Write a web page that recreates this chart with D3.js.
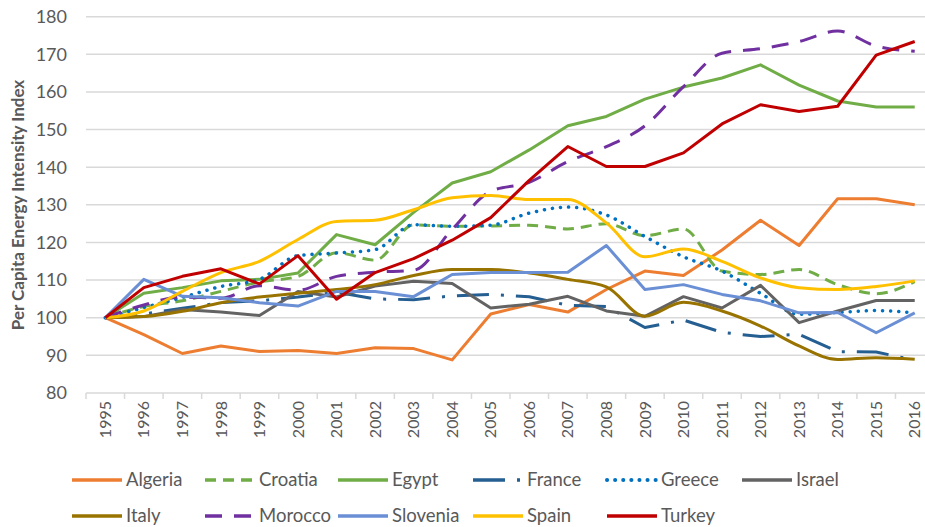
<!doctype html>
<html lang="en">
<head>
    <meta charset="utf-8">
    <title>Per Capita Energy Intensity Index</title>
    <script src="https://d3js.org/d3.v7.min.js"></script>
    <style>
        body {
            margin: 0;
            padding: 0;
            background: #ffffff;
        }
        svg {
            display: block;
            font-family: 'Lato', 'Open Sans', sans-serif;
        }
        .grid line {
            stroke: #d9d9d9;
            stroke-width: 1.5;
        }
        .tick-label {
            fill: #595959;
        }
    </style>
</head>
<body>
    <div class="home"></div>
    <script>
        // chart data
        const years = ["1995", "1996", "1997", "1998", "1999", "2000", "2001", "2002", "2003", "2004", "2005",
                       "2006", "2007", "2008", "2009", "2010", "2011", "2012", "2013", "2014", "2015", "2016"];
        const yTicks = [80, 90, 100, 110, 120, 130, 140, 150, 160, 170, 180];

        const algeria  = [100, 95.5, 90.5, 92.5, 91, 91.3, 90.5, 92, 91.8, 88.8, 101, 103.5, 101.5, 107.5, 112.4, 111.2, 118, 125.9, 119.2, 131.6, 131.6, 130];
        const croatia  = [100, 103, 104.5, 107, 109.5, 111, 117.3, 115.3, 124.7, 124.3, 124.4, 124.6, 123.6, 125, 121.8, 123.6, 112.4, 111.5, 112.8, 108.8, 106.4, 109.6];
        const egypt    = [100, 106.5, 108, 109.8, 110.2, 111.9, 122.1, 119.4, 128, 135.8, 138.8, 144.6, 151, 153.5, 158.1, 161.3, 163.7, 167.2, 161.8, 157.6, 156, 156];
        const france   = [100, 101, 102.5, 104, 104.5, 105.5, 106.8, 105, 104.8, 105.8, 106.2, 105.6, 103.3, 103, 97.4, 99.4, 96.1, 95, 95.6, 91, 90.9, 88.7];
        const greece   = [100, 102.7, 105.4, 108.3, 110.2, 116.5, 117.2, 118.1, 124.7, 124.3, 124.6, 127.8, 129.4, 127.3, 121.6, 116.2, 112.4, 106.5, 100.9, 101.4, 101.9, 101.3];
        const israel   = [100, 100.3, 102.2, 101.5, 100.6, 107, 105.5, 108.4, 109.7, 109.1, 102.6, 103.6, 105.7, 101.8, 100.4, 105.6, 102.6, 108.6, 98.7, 101.8, 104.6, 104.6];
        const italy    = [100, 100.3, 101.7, 104, 105.5, 106.5, 107.5, 108.8, 111.2, 112.8, 112.8, 111.9, 110.2, 108.2, 100.4, 104.1, 101.8, 97.8, 92.5, 88.9, 89.4, 89];
        const morocco  = [100, 103.4, 105.5, 105.2, 108.5, 107.3, 111, 112.1, 112.6, 123.5, 133.6, 136, 141.5, 145.5, 151, 161.4, 170.3, 171.5, 173.4, 176.2, 172.2, 170.8];
        const slovenia = [100, 110.2, 105.7, 105.3, 104, 103.1, 107, 107, 105.6, 111.5, 112, 112, 112.1, 119.2, 107.5, 108.8, 106.2, 104.5, 101.3, 101.4, 96, 101.3];
        const spain    = [100, 101.8, 107, 112, 115, 120.8, 125.6, 125.9, 128.7, 131.9, 132.5, 131.4, 131.4, 125.2, 116.2, 118.3, 115, 110.6, 108, 107.5, 108.3, 109.8];
        const turkey   = [100, 108, 111, 113, 109, 116.5, 104.9, 112, 115.7, 120.6, 126.6, 136.5, 145.5, 140.2, 140.2, 143.8, 151.5, 156.6, 154.8, 156.2, 169.8, 173.4];

        const seriesNames  = ["Algeria", "Croatia", "Egypt", "France", "Greece", "Israel",
                              "Italy", "Morocco", "Slovenia", "Spain", "Turkey"];
        const seriesValues = [algeria, croatia, egypt, france, greece, israel,
                              italy, morocco, slovenia, spain, turkey];

        // line styles per series
        const styles = {
            Algeria:  {color: "#ed7d31", dash: null,          width: 3,   smooth: false},
            Croatia:  {color: "#70ad47", dash: "11,7",        width: 3,   smooth: true},
            Egypt:    {color: "#70ad47", dash: null,          width: 3,   smooth: false},
            France:   {color: "#255e91", dash: "32,12,3,12",  width: 3,   smooth: false},
            Greece:   {color: "#0070c0", dash: "0.1,8",       width: 3.5, smooth: true, cap: "round"},
            Israel:   {color: "#636363", dash: null,          width: 3,   smooth: false},
            Italy:    {color: "#997300", dash: null,          width: 3,   smooth: true},
            Morocco:  {color: "#7030a0", dash: "17,12",       width: 3,   smooth: true},
            Slovenia: {color: "#6a8fd4", dash: null,          width: 3,   smooth: false},
            Spain:    {color: "#ffc000", dash: null,          width: 3,   smooth: true},
            Turkey:   {color: "#c00000", dash: null,          width: 3,   smooth: false}
        };

        // window size
        const width = 925;
        const height = 527;

        const svg = d3.select(".home").append("svg")
            .attr("width", width)
            .attr("height", height);

        // scales (right end of the plot runs past the frame like the original)
        const x = d3.scaleBand().domain(years).range([86, 934]);
        const y = d3.scaleLinear().domain([80, 180]).range([393, 16.7]);
        const cx = d => x(d) + x.bandwidth() / 2;

        // gridlines
        svg.append("g").attr("class", "grid")
            .selectAll("line")
            .data(yTicks)
            .enter()
            .append("line")
            .attr("x1", 86)
            .attr("x2", width)
            .attr("y1", d => y(d))
            .attr("y2", d => y(d));

        // y axis labels
        svg.append("g")
            .selectAll("text")
            .data(yTicks)
            .enter()
            .append("text")
            .attr("class", "tick-label")
            .attr("x", 67)
            .attr("y", d => y(d))
            .attr("dy", "0.35em")
            .attr("text-anchor", "end")
            .style("font-size", "18px")
            .text(d => d);

        // x axis tick marks between categories
        svg.append("g")
            .selectAll("line")
            .data(years.concat(["end"]))
            .enter()
            .append("line")
            .attr("x1", (d, i) => x.range()[0] + i * x.step())
            .attr("x2", (d, i) => x.range()[0] + i * x.step())
            .attr("y1", y(80))
            .attr("y2", y(80) + 6)
            .style("stroke", "#d9d9d9")
            .style("stroke-width", 1.5);

        // x axis labels, rotated
        svg.append("g")
            .selectAll("text")
            .data(years)
            .enter()
            .append("text")
            .attr("class", "tick-label")
            .attr("transform", d => `translate(${cx(d)},${y(80) + 8}) rotate(-90)`)
            .attr("dy", "0.35em")
            .attr("text-anchor", "end")
            .style("font-size", "16px")
            .text(d => d);

        // y axis title
        svg.append("text")
            .attr("transform", `translate(18,205) rotate(-90)`)
            .attr("text-anchor", "middle")
            .attr("dy", "0.35em")
            .style("font-size", "17px")
            .style("font-weight", "bold")
            .style("fill", "#595959")
            .text("Per Capita Energy Intensity Index");

        // series lines
        const g = svg.append("g").attr("class", "series");
        seriesNames.forEach((name, k) => {
            const st = styles[name];
            const line = d3.line()
                .x((d, i) => cx(years[i]))
                .y(d => y(d))
                .curve(st.smooth ? d3.curveMonotoneX : d3.curveLinear);
            g.append("path")
                .datum(seriesValues[k])
                .attr("d", line)
                .style("fill", "none")
                .style("stroke", st.color)
                .style("stroke-width", st.width)
                .style("stroke-linejoin", "round")
                .style("stroke-linecap", st.cap || "butt")
                .style("stroke-dasharray", st.dash);
        });

        // legend
        const legendCols = [72, 205, 338, 473, 607, 742];
        const legendRows = [480, 516];
        const legend = svg.append("g").attr("class", "legend");
        seriesNames.forEach((name, k) => {
            const st = styles[name];
            const lx = legendCols[k % 6];
            const ly = legendRows[Math.floor(k / 6)];
            legend.append("line")
                .attr("x1", lx)
                .attr("x2", lx + 50)
                .attr("y1", ly)
                .attr("y2", ly)
                .style("stroke", st.color)
                .style("stroke-width", st.width + 0.5)
                .style("stroke-linecap", st.cap || "butt")
                .style("stroke-dasharray", st.dash);
            legend.append("text")
                .attr("x", lx + 54)
                .attr("y", ly)
                .attr("dy", "0.35em")
                .style("font-size", "18.5px")
                .style("fill", "#595959")
                .text(name);
        });
    </script>
</body>
</html>
